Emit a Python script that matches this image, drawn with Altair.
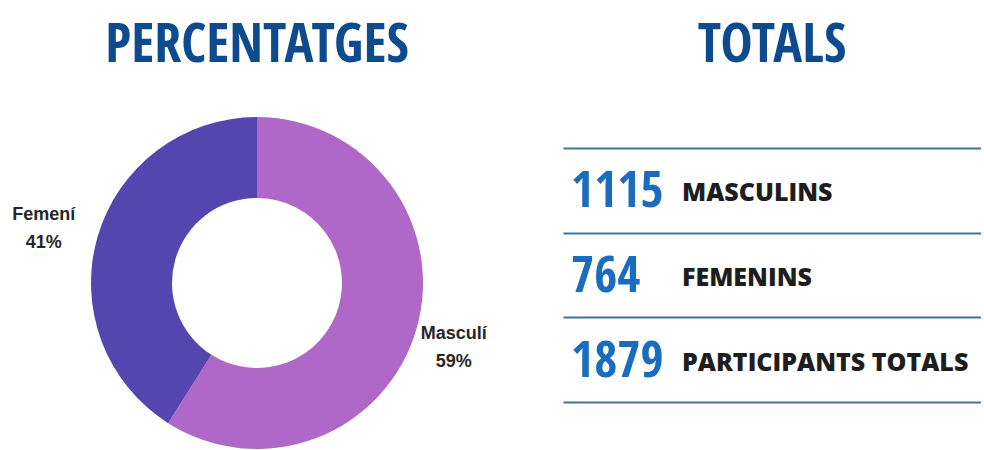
import altair as alt
import pandas as pd

# Donut data
sexes = ["Masculí", "Femení"]
percents = [59, 41]
slice_colors = ["#b068c8", "#5446ae"]

# Totals table
totals = [1115, 764, 1879]
total_labels = ["MASCULINS", "FEMENINS", "PARTICIPANTS TOTALS"]

donut_df = pd.DataFrame({"sexe": sexes, "pct": percents, "ordre": list(range(len(sexes)))})
table_df = pd.DataFrame({"total": totals, "etiqueta": total_labels, "fila": list(range(len(totals)))})

cond_font = "Open Sans Condensed, DejaVu Sans Condensed, sans-serif"

base = alt.Chart(donut_df).encode(
    theta=alt.Theta("pct:Q", stack=True),
    order=alt.Order("ordre:O"),
)

arcs = base.mark_arc(outerRadius=166, innerRadius=85).encode(
    color=alt.Color("sexe:N", scale=alt.Scale(domain=sexes, range=slice_colors), legend=None)
)


def label_layer(keep, radius):
    return base.transform_calculate(
        txt="datum.sexe + '\\n' + datum.pct + '%'",
        show=f"datum.sexe == '{keep}' ? 1 : 0",
    ).mark_text(
        font="Liberation Sans", fontWeight="bold", fontSize=18, lineBreak="\n",
        lineHeight=28, color="#262626", align="center", baseline="middle", dy=-6
    ).encode(
        text="txt:N",
        radius=alt.value(radius),
        opacity=alt.Opacity("show:Q", scale=alt.Scale(domain=[0, 1], range=[0, 1]), legend=None),
    )


left = alt.layer(arcs, label_layer("Femení", 222), label_layer("Masculí", 205)).properties(
    width=514, height=334,
    title=alt.TitleParams(
        "PERCENTATGES", font=cond_font, fontSize=54, fontWeight="bold",
        color="#0d4a8e", anchor="middle", offset=43
    ),
)

ybase = alt.Chart(table_df).encode(
    y=alt.Y(
        "etiqueta:N", sort=total_labels,
        scale=alt.Scale(paddingInner=0, paddingOuter=0, range=[32, 286]),
        axis=alt.Axis(grid=True, tickBand="extent", labels=False, ticks=False,
                      domain=False, title=None, gridColor="#44739a", gridWidth=2),
    )
)

nums = ybase.mark_text(
    font=cond_font, fontWeight="bold", fontSize=50, color="#1a6cbf",
    align="left", baseline="middle", dy=2
).encode(x=alt.value(8), text="total:Q")

names = ybase.mark_text(
    font="Open Sans", fontWeight=800, fontSize=25, color="#1e1e1e",
    align="left", baseline="middle", dy=3
).encode(x=alt.value(119), text="etiqueta:N")

right = alt.layer(nums, names).properties(
    width=418, height=286,
    title=alt.TitleParams(
        "TOTALS", font=cond_font, fontSize=54, fontWeight="bold",
        color="#0d4a8e", anchor="middle", offset=43
    ),
)

chart = alt.hconcat(left, right, spacing=49).properties(
    padding={"left": 0, "top": 19, "right": 0, "bottom": 0}
).configure_view(strokeWidth=0)

chart.save("out.html", embed_options={"renderer": "svg", "actions": False})
